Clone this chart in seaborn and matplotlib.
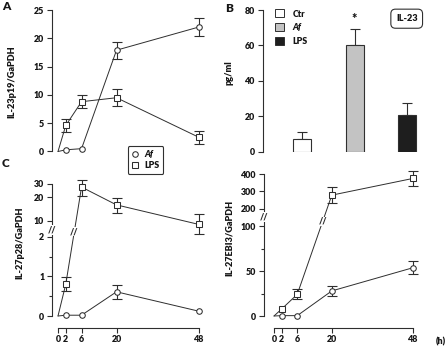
import numpy as np
import matplotlib
matplotlib.use("Agg")
import matplotlib.pyplot as plt
import seaborn as sns
from matplotlib.lines import Line2D
from matplotlib.patches import Patch
from matplotlib.ticker import FixedLocator, NullLocator

# ---------------- data ----------------
times = [0, 2, 6, 20, 48]
time_labels = ["0", "2", "6", "20", "48"]

# Panel A: IL-23p19/GaPDH
a_af = [0, 0.3, 0.5, 17.9, 22.0]
a_af_err = [0, 0, 0, 1.5, 1.6]
a_lps = [0, 4.6, 8.8, 9.5, 2.5]
a_lps_err = [0, 1.2, 1.2, 1.5, 1.15]

# Panel B: IL-23 pg/ml
b_cats = ["Ctr", "Af", "LPS"]
b_vals = [7.0, 60.3, 20.9]
b_err = [3.9, 8.8, 6.4]
b_colors = ["#ffffff", "#c3c3c3", "#1e1e1e"]

# Panel C: IL-27p28/GaPDH
c_af = [0, 0.02, 0.02, 0.61, 0.12]
c_af_err = [0, 0, 0, 0.18, 0]
c_lps = [0, 0.8, 27.0, 16.0, 9.0]
c_lps_lo = [0, 0.18, 6.5, 3.3, 2.3]
c_lps_hi = [0, 0.18, 6.5, 3.8, 3.3]
c_yticks = [0, 1, 2, 10, 20, 30]
c_yminor = [0.5, 1.5]

# Panel D: IL-27EBI3/GaPDH
d_af = [0, 0.4, 0.4, 28.0, 54.0]
d_af_err = [0, 0, 0, 5.6, 6.9]
d_lps = [0, 7.8, 24.2, 279.0, 375.0]
d_lps_err = [0, 0, 5.6, 44.0, 44.0]
d_yticks = [0, 50, 100, 200, 300, 400]
d_yminor = [25, 75]

LINE = "#2e2e2e"
TXT = "#161616"

# ---------------- style ----------------
sns.set_style("ticks")
plt.rcParams["font.family"] = ["Lato", "DejaVu Sans"]
plt.rcParams["font.weight"] = "heavy"
plt.rcParams["axes.labelweight"] = "heavy"
plt.rcParams["text.color"] = TXT
plt.rcParams["axes.labelcolor"] = TXT
plt.rcParams["xtick.color"] = LINE
plt.rcParams["ytick.color"] = LINE
plt.rcParams["xtick.labelcolor"] = TXT
plt.rcParams["ytick.labelcolor"] = TXT

TICKFS = 6.4
W, H = 448, 348
fig = plt.figure(figsize=(W / 100, H / 100), dpi=100)


def add_ax(L, T, R, B):
    return fig.add_axes([L / W, 1 - B / H, (R - L) / W, (B - T) / H])


# ---------------- scales ----------------
T_ANCH = np.array([0, 2, 6, 20, 48], float)
F_ANCH = np.array([0, 0.055, 0.167, 0.415, 1.0])


def t_fwd(t):
    t = np.asarray(t, float)
    f = np.interp(t, T_ANCH, F_ANCH)
    f = np.where(t < 0, t * F_ANCH[1] / T_ANCH[1], f)
    f = np.where(t > 48, 1 + (t - 48) * (1 - F_ANCH[3]) / (48 - 20), f)
    return f


def t_inv(f):
    f = np.asarray(f, float)
    t = np.interp(f, F_ANCH, T_ANCH)
    t = np.where(f < 0, f * T_ANCH[1] / F_ANCH[1], t)
    t = np.where(f > 1, 48 + (f - 1) * (48 - 20) / (1 - F_ANCH[3]), t)
    return t


YB, K, S = 6.45, 1.975, 0.005
FB = 2 + S * (YB - 2)


def c_fwd(y):
    y = np.asarray(y, float)
    with np.errstate(all="ignore"):
        up = FB + K * np.log10(np.maximum(y, 1e-9) / YB)
    return np.where(y <= 2, y, np.where(y <= YB, 2 + S * (y - 2), up))


def c_inv(v):
    v = np.asarray(v, float)
    with np.errstate(all="ignore"):
        up = YB * 10 ** ((np.minimum(v, 50) - FB) / K)
    return np.where(v <= 2, v, np.where(v <= FB, 2 + (v - 2) / S, up))


DS = 0.195


def d_fwd(y):
    y = np.asarray(y, float)
    return np.where(y <= 100, y, 100 + (y - 100) * DS)


def d_inv(v):
    v = np.asarray(v, float)
    return np.where(v <= 100, v, 100 + (v - 100) / DS)


def set_time_x(ax, L, R, P0, P48):
    ax.set_xscale("function", functions=(t_fwd, t_inv))
    ax.set_xlim(float(t_inv((L - P0) / (P48 - P0))), float(t_inv((R - P0) / (P48 - P0))))


def series(ax, y, marker, ms):
    sns.lineplot(x=times, y=y, ax=ax, color=LINE, lw=0.7, marker=marker,
                 markersize=ms, markerfacecolor="white", markeredgecolor=LINE,
                 markeredgewidth=0.75, markevery=[1, 2, 3, 4], sort=False,
                 errorbar=None, zorder=3, clip_on=False)


def errs(ax, y, lo, hi):
    t = np.array(times, float)
    y = np.array(y, float)
    lo = np.array(lo, float)
    hi = np.array(hi, float)
    m = (lo > 0) | (hi > 0)
    c = ax.errorbar(t[m], y[m], yerr=[lo[m], hi[m]], fmt="none", ecolor=LINE,
                    elinewidth=0.8, capsize=3.6, capthick=0.8, zorder=2)
    for a in c.get_children():
        a.set_clip_on(False)


def style_left(ax, lo, hi):
    ax.spines["top"].set_visible(False)
    ax.spines["right"].set_visible(False)
    ax.spines["left"].set_bounds(lo, hi)
    ax.spines["left"].set_linewidth(0.8)
    ax.spines["left"].set_color(LINE)
    ax.tick_params(axis="y", labelsize=TICKFS, length=3.6, width=0.8, pad=2, direction="out")
    ax.tick_params(axis="y", which="minor", length=2.5, width=0.8)
    ax.set_xlabel("")


def style_time_bottom(ax):
    sp = ax.spines["bottom"]
    sp.set_position(("outward", 8.6))
    sp.set_bounds(0, 48)
    sp.set_linewidth(0.8)
    sp.set_color(LINE)
    ax.set_xticks(times)
    ax.set_xticklabels(time_labels)
    ax.xaxis.set_minor_locator(NullLocator())
    ax.tick_params(axis="x", labelsize=TICKFS, length=3.6, width=0.8, pad=1.5, direction="out")


def break_mark(ax, x, y, transform, fs=6.5):
    ax.text(x, y, "//", transform=transform, ha="center", va="center", fontsize=fs,
            color=LINE, zorder=6, bbox=dict(fc="white", ec="none", pad=0.2))


def line_break(ax, i0, i1, yv, ybreak):
    p0 = ax.transData.transform((times[i0], yv[i0]))
    p1 = ax.transData.transform((times[i1], yv[i1]))
    yd = ax.transData.transform((times[i0], ybreak))[1]
    fr = (yd - p0[1]) / (p1[1] - p0[1])
    xd = p0[0] + fr * (p1[0] - p0[0])
    xx, yy = ax.transData.inverted().transform((xd, yd))
    break_mark(ax, xx, yy, ax.transData)


# ---------------- Panel A ----------------
axA = add_ax(52, 10, 205, 151.5)
errs(axA, a_af, a_af_err, a_af_err)
errs(axA, a_lps, a_lps_err, a_lps_err)
series(axA, a_af, "o", 4.0)
series(axA, a_lps, "s", 3.8)
set_time_x(axA, 52, 205, 58, 199)
axA.set_ylim(0, 25)
axA.set_yticks([0, 5, 10, 15, 20, 25])
style_left(axA, 0, 25)
axA.spines["bottom"].set_visible(False)
axA.set_xticks([])
axA.xaxis.set_minor_locator(NullLocator())
axA.set_ylabel("IL-23p19/GaPDH", fontsize=6.6)
axA.yaxis.set_label_coords(-0.232, 0.49)

# ---------------- Panel B ----------------
axB = add_ax(263, 10, 440, 151.7)
sns.barplot(x=b_cats, y=b_vals, hue=b_cats, palette=b_colors, legend=False,
            width=0.345, edgecolor="#303030", linewidth=0.8, ax=axB, zorder=2)
ebc = axB.errorbar(np.arange(len(b_cats)), b_vals, yerr=[np.zeros(len(b_vals)), b_err],
                   fmt="none", ecolor=LINE, elinewidth=0.8, capsize=3.6, capthick=0.8, zorder=1)
axB.set_xlim(-0.758, 2.64)
axB.set_ylim(0, 80)
axB.set_yticks([0, 20, 40, 60, 80])
style_left(axB, 0, 80)
axB.spines["bottom"].set_visible(False)
axB.set_xticks([])
axB.set_ylabel("pg/ml", fontsize=6.6)
axB.yaxis.set_label_coords(-0.168, 0.56)
axB.annotate("*", xy=(1, b_vals[1] + b_err[1]), xytext=(0, 3), textcoords="offset points",
             ha="center", va="bottom", fontsize=9)
legB = axB.legend(handles=[Patch(facecolor=c, edgecolor="#303030", lw=0.7) for c in b_colors],
                  labels=b_cats, loc="upper left", bbox_to_anchor=(275 / W, 1 - 9.5 / H),
                  bbox_transform=fig.transFigure, frameon=False, fontsize=6.4,
                  handlelength=1.0, handleheight=1.0, handletextpad=1.0,
                  labelspacing=0.55, borderpad=0, borderaxespad=0)
legB.get_texts()[1].set_style("italic")
fig.text(406.7 / W, 1 - 18.7 / H, "IL-23", ha="center", va="center", fontsize=6.6,
         bbox=dict(boxstyle="round,pad=0.55,rounding_size=0.5", fc="white", ec="#303030", lw=0.8))

# ---------------- Panel C ----------------
axC = add_ax(52, 183.5, 205, 316)
errs(axC, c_af, c_af_err, c_af_err)
errs(axC, c_lps, c_lps_lo, c_lps_hi)
series(axC, c_af, "o", 4.0)
series(axC, c_lps, "s", 3.8)
set_time_x(axC, 52, 205, 58, 199)
axC.set_yscale("function", functions=(c_fwd, c_inv))
axC.set_ylim(0, 30)
axC.set_yticks(c_yticks)
axC.set_yticklabels([str(v) for v in c_yticks])
axC.yaxis.set_minor_locator(FixedLocator(c_yminor))
style_left(axC, 0, 30)
style_time_bottom(axC)
axC.set_ylabel("IL-27p28/GaPDH", fontsize=6.6)
axC.yaxis.set_label_coords(-0.183, 0.55)
break_mark(axC, 0, 7.6, axC.get_yaxis_transform())
line_break(axC, 1, 2, c_lps, 7.3)
legC = axC.legend(handles=[Line2D([], [], ls="none", marker="o", ms=4.0, mfc="white", mec=LINE, mew=0.75),
                           Line2D([], [], ls="none", marker="s", ms=3.8, mfc="white", mec=LINE, mew=0.75)],
                  labels=["Af", "LPS"], loc="center", bbox_to_anchor=(145.5 / W, 1 - 160 / H),
                  bbox_transform=fig.transFigure, frameon=True, fancybox=True, fontsize=6.4,
                  handlelength=0.8, handletextpad=0.6, labelspacing=0.2, borderpad=0.45,
                  borderaxespad=0)
legC.get_frame().set_edgecolor("#303030")
legC.get_frame().set_linewidth(0.8)
legC.get_frame().set_alpha(1)
legC.get_texts()[0].set_style("italic")

# ---------------- Panel D ----------------
axD = add_ax(264, 174, 420, 316)
errs(axD, d_af, d_af_err, d_af_err)
errs(axD, d_lps, d_lps_err, d_lps_err)
series(axD, d_af, "o", 4.0)
series(axD, d_lps, "s", 3.8)
set_time_x(axD, 264, 420, 274, 413.3)
axD.set_yscale("function", functions=(d_fwd, d_inv))
axD.set_ylim(0, 400)
axD.set_yticks(d_yticks)
axD.set_yticklabels([str(v) for v in d_yticks])
axD.yaxis.set_minor_locator(FixedLocator(d_yminor))
style_left(axD, 0, 400)
style_time_bottom(axD)
axD.set_ylabel("IL-27EBI3/GaPDH", fontsize=6.6)
axD.yaxis.set_label_coords(-0.19, 0.55)
break_mark(axD, 0, 154, axD.get_yaxis_transform())
line_break(axD, 2, 3, d_lps, 129)

fig.text(441 / W, 1 - 342 / H, "(h)", ha="center", va="center", fontsize=6.4)

# panel letters
fig.text(6 / W, 1 - 7 / H, "A", ha="center", va="center", fontsize=8.5)
fig.text(229 / W, 1 - 8 / H, "B", ha="center", va="center", fontsize=8.5)
fig.text(6 / W, 1 - 163 / H, "C", ha="center", va="center", fontsize=8.5)

fig.savefig("out.png", dpi=100)
